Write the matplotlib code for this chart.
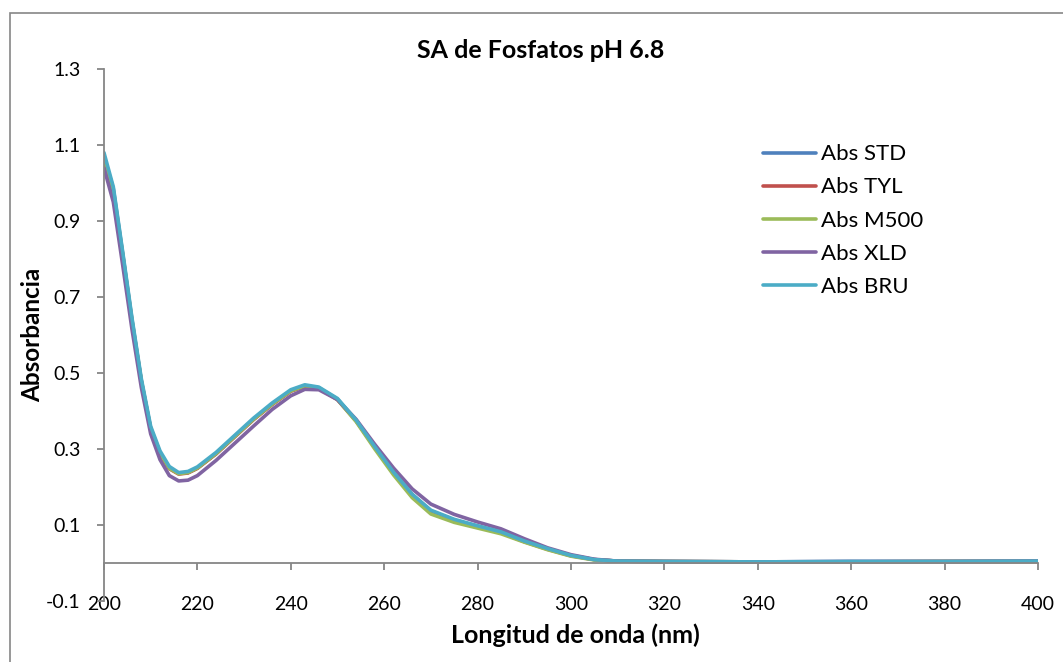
import numpy as np
import matplotlib.pyplot as plt
from matplotlib.patches import Rectangle

plt.rcParams['font.family'] = ['Lato', 'DejaVu Sans']

# wavelength grid (nm)
wl = [200, 202, 204, 206, 208, 210, 212, 214, 216, 218, 220, 224, 228, 232,
      236, 240, 243, 246, 250, 254, 258, 262, 266, 270, 275, 280, 285, 290,
      295, 300, 305, 310, 320, 340, 360, 380, 400]

abs_std = [1.07, 0.985, 0.815, 0.64, 0.48, 0.355, 0.29, 0.25, 0.236, 0.238,
           0.25, 0.288, 0.333, 0.378, 0.418, 0.453, 0.466, 0.461, 0.431, 0.375,
           0.305, 0.238, 0.18, 0.137, 0.113, 0.097, 0.081, 0.057, 0.037, 0.02,
           0.009, 0.005, 0.004, 0.003, 0.004, 0.004, 0.005]
abs_tyl = [1.05, 0.975, 0.81, 0.635, 0.478, 0.352, 0.288, 0.248, 0.234, 0.237,
           0.249, 0.287, 0.332, 0.377, 0.417, 0.452, 0.465, 0.46, 0.43, 0.374,
           0.304, 0.236, 0.178, 0.135, 0.111, 0.095, 0.08, 0.056, 0.036, 0.019,
           0.009, 0.005, 0.004, 0.003, 0.003, 0.004, 0.004]
abs_m500 = [1.06, 0.98, 0.812, 0.637, 0.479, 0.353, 0.289, 0.249, 0.235, 0.238,
            0.25, 0.288, 0.333, 0.378, 0.418, 0.453, 0.466, 0.461, 0.43, 0.372,
            0.3, 0.232, 0.172, 0.129, 0.107, 0.092, 0.077, 0.055, 0.035, 0.018,
            0.008, 0.005, 0.004, 0.003, 0.003, 0.004, 0.004]
abs_xld = [1.04, 0.95, 0.785, 0.615, 0.462, 0.34, 0.272, 0.23, 0.216, 0.218,
           0.23, 0.27, 0.315, 0.36, 0.404, 0.44, 0.457, 0.456, 0.43, 0.378,
           0.312, 0.25, 0.195, 0.155, 0.128, 0.108, 0.09, 0.064, 0.04, 0.022,
           0.01, 0.005, 0.004, 0.003, 0.004, 0.004, 0.005]
abs_bru = [1.08, 0.99, 0.82, 0.645, 0.485, 0.36, 0.295, 0.254, 0.238, 0.241,
           0.253, 0.291, 0.336, 0.381, 0.421, 0.456, 0.469, 0.463, 0.433, 0.376,
           0.306, 0.239, 0.181, 0.139, 0.115, 0.098, 0.082, 0.058, 0.038, 0.02,
           0.009, 0.005, 0.004, 0.003, 0.004, 0.004, 0.005]

series = [('Abs STD', abs_std, '#4F81BD'),
          ('Abs TYL', abs_tyl, '#C0504D'),
          ('Abs M500', abs_m500, '#9BBB59'),
          ('Abs XLD', abs_xld, '#8064A2'),
          ('Abs BRU', abs_bru, '#4BACC6')]

fig = plt.figure(figsize=(10.63, 6.62), dpi=100)
ax = fig.add_axes([0.0978, 0.0921, 0.8787, 0.8037])

for name, vals, col in series:
    ax.plot(wl, vals, color=col, lw=2.6, label=name, solid_capstyle='round')

ax.set_xlim(200, 400)
ax.set_ylim(-0.1, 1.3)
ax.set_xticks(np.arange(200, 401, 20))
ax.set_yticks(np.arange(-0.1, 1.31, 0.2))
ax.set_yticklabels(['-0.1', '0.1', '0.3', '0.5', '0.7', '0.9', '1.1', '1.3'])

grey = '#868686'
for s in ['top', 'right']:
    ax.spines[s].set_visible(False)
ax.spines['left'].set_color(grey)
ax.spines['bottom'].set_color(grey)
ax.spines['bottom'].set_position(('data', 0))
ax.spines['left'].set_linewidth(1.3)
ax.spines['bottom'].set_linewidth(1.3)
ax.tick_params(axis='y', direction='out', length=5, width=1.3, color=grey,
               labelsize=14, pad=12)
ax.tick_params(axis='x', direction='out', length=5, width=1.3, color=grey,
               labelsize=14, pad=19)

fig.text(0.509, 0.9124, 'SA de Fosfatos pH 6.8', ha='center', va='baseline',
         fontsize=18, fontweight='bold')
fig.text(0.541, 0.0287, 'Longitud de onda (nm)', ha='center', va='baseline',
         fontsize=18, fontweight='bold')
fig.text(0.031, 0.494, 'Absorbancia', ha='center', va='center',
         fontsize=17.5, fontweight='bold', rotation=90)

fig.legend(loc='upper left', bbox_to_anchor=(0.7175, 0.782), frameon=False,
           fontsize=16, handlelength=2.4, handletextpad=0.22, labelspacing=0.59,
           borderpad=0, borderaxespad=0)

# chart area frame
fig.patches.append(Rectangle((0.009, -0.5), 1.5, 1.481, transform=fig.transFigure,
                             fill=False, edgecolor=grey, lw=1.2))

fig.savefig('out.png', dpi=100)
